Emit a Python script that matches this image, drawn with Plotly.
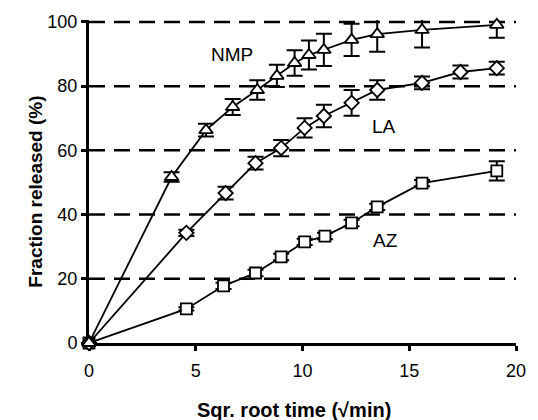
import plotly.graph_objects as go

nmp_x = [0, 3.87, 5.48, 6.73, 7.88, 8.8, 9.63, 10.3, 11.0, 12.3, 13.5, 15.6, 19.1]
nmp_y = [0, 51.7, 66.3, 73.5, 78.8, 83.2, 87.2, 89.7, 91.3, 94.4, 96.2, 97.5, 99.1]
nmp_e = [None, 1.5, 2, 2.5, 3, 3.5, 4, 4.5, 5, 5, 5.5, 5.5, 4]

la_x = [0, 4.56, 6.4, 7.8, 9.0, 10.1, 11.0, 12.3, 13.5, 15.6, 17.4, 19.1]
la_y = [0, 34.3, 46.7, 56.0, 60.7, 67.0, 70.7, 74.8, 78.8, 81.0, 84.4, 85.6]
la_e = [None, 1, 2, 2, 2.5, 3, 3.5, 4, 3, 2, 2, 2]

az_x = [0, 4.56, 6.3, 7.8, 9.0, 10.1, 11.05, 12.3, 13.5, 15.6, 19.1]
az_y = [0, 10.6, 17.8, 21.8, 26.8, 31.5, 33.3, 37.4, 42.4, 49.8, 53.6]
az_e = [None, 0.5, 1, 1, 1, 1, 1, 1, 1, 1, 3]

labels = [("NMP", 6.7, 90), ("LA", 13.8, 67.3), ("AZ", 13.9, 32)]

FONT = "Liberation Sans, Arial"
fig = go.Figure()

def add(x, y, e, sym, size):
    fig.add_trace(go.Scatter(
        x=x, y=y, mode="lines+markers", cliponaxis=False,
        line=dict(color="black", width=1.8),
        marker=dict(symbol=sym, size=size, color="white",
                    line=dict(color="black", width=1.8)),
        error_y=dict(type="data", array=e, color="black", thickness=2, width=8),
        showlegend=False))

add(az_x, az_y, az_e, "square", 11)
add(la_x, la_y, la_e, "diamond", 11)
add(nmp_x, nmp_y, nmp_e, "triangle-up", 12)

for t, x, y in labels:
    fig.add_annotation(x=x, y=y, text=t, showarrow=False,
                       font=dict(family=FONT, size=19, color="black"))

fig.add_annotation(xref="paper", yref="paper", x=0, y=0.467, xshift=-66,
                   text="<b>Fraction released (%)</b>", textangle=-90, showarrow=False,
                   font=dict(family=FONT, size=19, color="black"))
fig.add_annotation(xref="paper", yref="paper", x=0.48, y=0, yshift=-67, yanchor="middle",
                   text="<b>Sqr. root time (√min)</b>", showarrow=False,
                   font=dict(family=FONT, size=20, color="black"))

for g in [20, 40, 60, 80, 100]:
    fig.add_shape(type="line", xref="paper", x0=0, x1=1, yref="y", y0=g, y1=g,
                  line=dict(color="black", width=2.5, dash="16px,9px"), layer="below")

fig.update_layout(
    width=538, height=420,
    margin=dict(l=89, r=15, t=20, b=77),
    plot_bgcolor="white", paper_bgcolor="white",
    font=dict(family=FONT, color="black", size=18),
    xaxis=dict(range=[0, 20], tickvals=[0, 5, 10, 15, 20], showgrid=False, zeroline=False,
               showline=True, linecolor="black", linewidth=3, layer="below traces",
               ticks="outside", ticklen=5, tickwidth=2.5, tickcolor="black",
               ticklabelstandoff=4),
    yaxis=dict(range=[0, 100.6], tickvals=[0, 20, 40, 60, 80, 100], showgrid=False, zeroline=False,
               showline=True, linecolor="black", linewidth=3, layer="below traces",
               ticks="outside", ticklen=5, tickwidth=2.5, tickcolor="black"),
)

fig.write_html("out.html")
